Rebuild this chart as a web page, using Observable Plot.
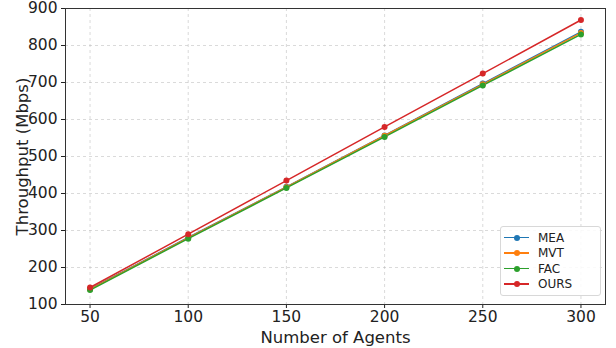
<!DOCTYPE html>
<html>
<head>
<meta charset="utf-8">
<script src="https://cdn.jsdelivr.net/npm/d3@7"></script>
<script src="https://cdn.jsdelivr.net/npm/@observablehq/plot@0.6"></script>
<style>
  body { margin: 0; background: #fff; }
  #wrap { position: relative; width: 616px; height: 348px; font-family: "DejaVu Sans", sans-serif; }
  #legend { position: absolute; left: 500px; top: 226px; width: 99px; padding: 3px 0 3px 0;
    border: 1px solid #d8d8d8; border-radius: 3px; background: rgba(255,255,255,0.85); }
  .row { display: flex; align-items: center; height: 15.5px; font-size: 12px; color: #222; }
  .sw { position: relative; width: 25px; height: 10px; margin: 0 9px 0 3px; }
  .sw .ln { position: absolute; left: 0; right: 0; top: 4px; height: 1.6px; }
  .sw .dt { position: absolute; left: 9.5px; top: 2px; width: 6px; height: 6px; border-radius: 50%; }
</style>
</head>
<body>
<div id="wrap"></div>
<script>
const agents = [50, 100, 150, 200, 250, 300];
const seriesNames = ["MEA", "MVT", "FAC", "OURS"];
const seriesColors = ["#1f77b4", "#ff7f0e", "#2ca02c", "#d62728"];
const MEA  = [142, 281, 418, 557, 697, 837];
const MVT  = [141, 280, 417, 556, 695, 834];
const FAC  = [139, 278, 415, 553, 692, 830];
const OURS = [146, 290, 435, 580, 724, 869];
const xTicks = [50, 100, 150, 200, 250, 300];
const yTicks = [100, 200, 300, 400, 500, 600, 700, 800, 900];

const valuesBySeries = { MEA, MVT, FAC, OURS };
const data = seriesNames.flatMap(s => agents.map((a, i) => ({ series: s, agents: a, value: valuesBySeries[s][i] })));

const chart = Plot.plot({
  width: 616,
  height: 348,
  marginLeft: 65,
  marginRight: 11,
  marginTop: 8,
  marginBottom: 44,
  style: { fontFamily: "DejaVu Sans, sans-serif", fontSize: "15px", color: "#222", background: "#fff" },
  x: { domain: [37.5, 312.5] },
  y: { domain: [100, 900] },
  color: { domain: seriesNames, range: seriesColors },
  marks: [
    Plot.gridX(xTicks, { stroke: "#b0b0b0", strokeOpacity: 0.6, strokeDasharray: "3,3", strokeWidth: 0.8 }),
    Plot.gridY(yTicks, { stroke: "#b0b0b0", strokeOpacity: 0.6, strokeDasharray: "3,3", strokeWidth: 0.8 }),
    Plot.axisX(xTicks, { tickSize: 4, tickPadding: 2, fontSize: 15.5, label: null }),
    Plot.axisY(yTicks, { tickSize: 4, tickPadding: 4, fontSize: 15.5, label: null }),
    Plot.axisX({ ticks: [], tickSize: 0, label: "Number of Agents", labelAnchor: "center", labelArrow: "none", labelOffset: 38, fontSize: 16.5 }),
    Plot.axisY({ ticks: [], tickSize: 0, label: "Throughput (Mbps)", labelAnchor: "center", labelArrow: "none", labelOffset: 49, fontSize: 16.5 }),
    Plot.line(data, { x: "agents", y: "value", z: "series", stroke: "series", strokeWidth: 1.5 }),
    Plot.dot(data, { x: "agents", y: "value", fill: "series", r: 3, stroke: null }),
    Plot.frame({ stroke: "#333", strokeWidth: 1 })
  ]
});
document.getElementById("wrap").appendChild(chart);

const legend = document.createElement("div");
legend.id = "legend";
seriesNames.forEach((s, i) => {
  const row = document.createElement("div");
  row.className = "row";
  row.innerHTML = `<span class="sw"><span class="ln" style="background:${seriesColors[i]}"></span><span class="dt" style="background:${seriesColors[i]}"></span></span><span>${s}</span>`;
  legend.appendChild(row);
});
document.getElementById("wrap").appendChild(legend);
</script>
</body>
</html>
